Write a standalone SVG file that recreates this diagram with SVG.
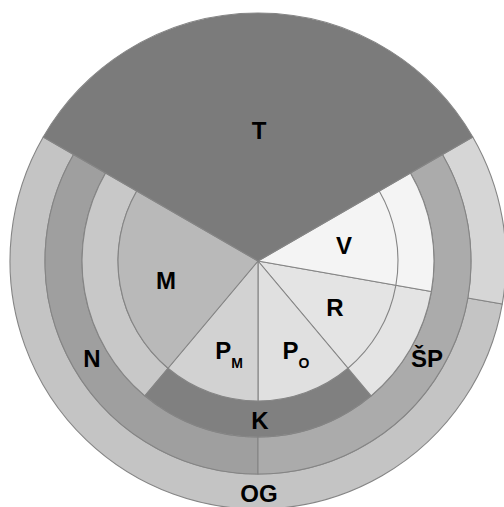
<svg xmlns="http://www.w3.org/2000/svg" width="504" height="507" viewBox="0 0 504 507">
<style>
.s{stroke:#858585;stroke-width:1.1;stroke-linejoin:round}
.lbl{font-family:"Liberation Sans",Arial,sans-serif;font-weight:bold;font-size:24px;fill:#000;text-anchor:middle}
.sub{font-size:14px}
</style>
<rect width="504" height="507" fill="#ffffff"/>
<g id="OG"><path class="s" fill="#c4c4c4" d="M43.23,137 A248,248 0 1 0 502.23,304.07 L467.76,297.99 A213,213 0 1 1 73.54,154.5 Z"/><text class="lbl" x="259" y="502">OG</text></g>
<g id="OR"><path class="s" fill="#d6d6d6" d="M502.23,304.07 A248,248 0 0 0 472.77,137 L442.46,154.5 A213,213 0 0 1 467.76,297.99 Z"/></g>
<g id="N"><path class="s" fill="#9f9f9f" d="M73.54,154.5 A213,213 0 0 0 258,474 L258,437 A176,176 0 0 1 105.58,173 Z"/><text class="lbl" x="92" y="367">N</text></g>
<g id="SP"><path class="s" fill="#ababab" d="M258,474 A213,213 0 0 0 442.46,154.5 L410.42,173 A176,176 0 0 1 258,437 Z"/><text class="lbl" x="427" y="367">ŠP</text></g>
<g id="MR"><path class="s" fill="#c8c8c8" d="M105.58,173 A176,176 0 0 0 144.87,395.82 L168.01,368.24 A140,140 0 0 1 136.76,191 Z"/></g>
<g id="K"><path class="s" fill="#808080" d="M144.87,395.82 A176,176 0 0 0 371.13,395.82 L347.99,368.24 A140,140 0 0 1 168.01,368.24 Z"/><text class="lbl" x="260" y="429">K</text></g>
<g id="R"><path class="s" fill="#e4e4e4" d="M258,261 L371.13,395.82 A176,176 0 0 0 431.32,291.56 Z"/><text class="lbl" x="335" y="316">R</text></g>
<g id="V"><path class="s" fill="#f4f4f4" d="M258,261 L431.32,291.56 A176,176 0 0 0 410.42,173 Z"/><text class="lbl" x="344" y="254">V</text></g>
<g id="PO"><path class="s" fill="#e0e0e0" d="M258,261 L258,401 A140,140 0 0 0 347.99,368.24 Z"/><text class="lbl" x="296" y="359">P<tspan class="sub" dy="9">O</tspan></text></g>
<g id="PM"><path class="s" fill="#d2d2d2" d="M258,261 L168.01,368.24 A140,140 0 0 0 258,401 Z"/><text class="lbl" x="229" y="359">P<tspan class="sub" dy="9">M</tspan></text></g>
<g id="M"><path class="s" fill="#b9b9b9" d="M258,261 L136.76,191 A140,140 0 0 0 168.01,368.24 Z"/><text class="lbl" x="166" y="289">M</text></g>
<g id="T"><path class="s" fill="#7b7b7b" d="M258,261 L472.77,137 A248,248 0 0 0 43.23,137 Z"/><text class="lbl" x="259" y="139">T</text></g>
<g id="connectors"><path class="s" fill="none" d="M347.99,368.24 A140,140 0 0 0 379.24,191"/></g>
</svg>
